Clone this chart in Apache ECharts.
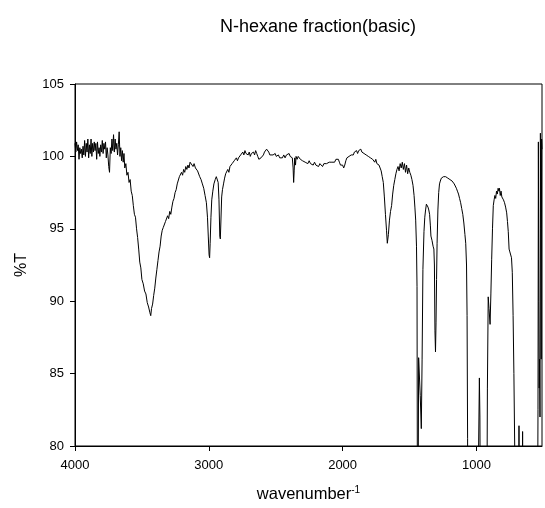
<!DOCTYPE html>
<html>
<head>
<meta charset="utf-8">
<script src="https://cdn.jsdelivr.net/npm/echarts@6/dist/echarts.min.js"></script>
<style>
html,body{margin:0;padding:0;background:#fff;}
#chart{width:545px;height:508px;}
</style>
</head>
<body>
<div id="chart"></div>
<script>
const titleText = 'N-hexane fraction(basic)';
const xTickValues = [4000, 3000, 2000, 1000];
const yTickValues = [80, 85, 90, 95, 100, 105];

// wavenumber (cm-1) and %T pairs
const wavenumber = [
4000,3994,3988,3982,3976,3970,3964,3958,3952,3946,3940,3934,3928,3922,3916,3910,3904,3898,3892,3886,
3880,3874,3868,3862,3856,3850,3844,3838,3832,3826,3820,3814,3808,3802,3796,3790,3784,3778,3772,3766,
3760,3754,3748,3742,3736,3730,3724,3718,3712,3706,3700,3694,3688,3682,3676,3670,3664,3658,3652,3646,
3640,3634,3628,3620,3612,3604,3596,3588,3580,3572,3564,3556,3548,3540,3532,3524,3516,3508,3500,3490,
3480,3470,3460,3450,3440,3434,3428,3420,3412,3404,3396,3388,3380,3372,3364,3356,3348,3340,3332,3324,
3316,3308,3300,3292,3284,3276,3268,3260,3252,3244,3236,3228,3220,3212,3204,3196,3188,3180,3172,3164,
3156,3148,3140,3132,3126,3118,3110,3100,3092,3084,3076,3068,3058,3048,3038,3028,3018,3010,3004,2998,
2994,2990,2984,2978,2970,2962,2952,2944,2936,2930,2924,2918,2914,2910,2904,2898,2890,2882,2874,2866,
2858,2850,2842,2834,2826,2818,2810,2802,2794,2786,2778,2770,2762,2754,2746,2738,2730,2722,2714,2706,
2698,2690,2682,2674,2666,2658,2650,2642,2634,2626,2618,2610,2600,2592,2584,2576,2568,2560,2552,2544,
2536,2520,2512,2504,2496,2488,2480,2470,2460,2450,2440,2430,2420,2410,2400,2392,2384,2376,2370,2366,
2362,2358,2352,2348,2340,2332,2324,2316,2308,2300,2290,2280,2270,2260,2250,2240,2230,2220,2210,2200,
2190,2180,2170,2160,2150,2140,2130,2120,2110,2100,2090,2080,2070,2060,2050,2040,2032,2024,2016,2008,
2000,1992,1984,1976,1968,1960,1952,1944,1936,1928,1920,1912,1904,1896,1888,1880,1872,1864,1856,1848,
1840,1832,1824,1816,1808,1800,1792,1784,1776,1768,1760,1752,1744,1736,1728,1720,1712,1704,1696,1688,
1680,1672,1666,1662,1658,1650,1642,1634,1626,1618,1610,1602,1594,1586,1578,1570,1562,1554,1546,1538,
1530,1522,1514,1506,1498,1490,1482,1474,1466,1460,1454,1448,1444,1440,1436,1432,1420,1412,1406,1400,
1392,1386,1380,1374,1368,1362,1356,1350,1344,1340,1332,1324,1318,1314,1310,1306,1302,1298,1294,1288,
1282,1276,1270,1262,1254,1246,1238,1230,1222,1214,1206,1198,1190,1182,1174,1166,1158,1150,1142,1134,
1126,1118,1110,1102,1094,1086,1080,1074,1070,1066,1062,1002,986,978,974,968,960,930,924,918,
912,906,898,892,886,880,874,868,862,856,850,844,838,832,828,822,816,810,804,798,
790,782,774,768,762,756,750,744,738,732,726,720,714,708,700,690,686,682,678,670,
660,655,650,646,560,545,540,537,534,531,528,525,522,519,516,513,510
];
const transmittance = [
100.9,100.3,101.0,100.4,100.8,99.8,100.6,100.2,100.5,99.9,100.7,100.1,101.1,100.0,100.9,100.3,101.2,99.9,100.8,100.2,
101.2,100.0,100.9,100.3,101.0,100.4,100.9,99.8,101.0,100.2,100.6,100.0,100.8,100.3,101.1,100.2,100.9,100.5,101.0,99.9,
100.6,100.1,99.3,98.9,100.6,100.2,101.2,100.4,101.5,100.3,101.2,100.5,100.9,100.1,100.8,101.7,100.0,100.6,99.7,100.4,
99.6,100.2,99.2,99.5,98.7,98.9,98.2,98.4,97.6,97.3,96.6,96.0,95.8,95.0,94.4,93.6,92.7,92.3,91.5,91.2,
90.7,90.5,89.9,89.6,89.2,89.0,89.5,89.8,90.4,90.9,91.6,92.2,92.8,93.4,93.8,94.5,94.9,95.1,95.0,95.5,
95.4,95.9,95.7,96.2,96.0,96.5,96.9,97.1,97.5,97.7,98.1,98.2,98.6,98.6,98.9,98.7,99.1,98.9,99.3,99.1,
99.4,99.2,99.6,99.5,99.7,99.3,99.5,99.2,99.3,99.0,98.9,98.6,98.4,98.1,97.8,97.3,96.8,95.8,94.5,93.2,
93.0,94.0,95.8,97.0,97.6,98.1,98.4,98.6,98.5,98.2,97.0,94.5,94.3,95.4,97.2,97.7,98.1,98.5,98.8,98.7,
99.1,98.9,99.3,99.2,99.5,99.4,99.7,99.6,99.9,99.7,99.9,99.8,100.1,100.0,100.3,100.1,100.4,100.2,100.3,100.1,
100.3,100.0,100.2,100.1,100.3,100.1,100.4,100.2,100.0,99.8,99.7,99.9,100.0,100.1,100.3,100.4,100.5,100.4,100.3,100.1,
100.2,100.1,100.0,100.2,100.0,99.9,100.1,99.9,100.0,99.9,100.1,99.9,100.1,100.0,100.2,100.0,100.1,99.9,99.2,98.2,
99.0,99.9,99.4,100.0,99.8,100.0,99.9,99.8,99.9,99.7,99.8,99.6,99.7,99.5,99.7,99.5,99.6,99.4,99.6,99.4,
99.5,99.3,99.5,99.4,99.3,99.5,99.4,99.5,99.4,99.6,99.5,99.6,99.7,99.6,99.8,99.9,99.8,99.6,99.4,99.3,
99.4,99.2,99.4,99.7,99.9,100.0,100.0,100.1,100.1,100.2,100.1,100.3,100.2,100.4,100.2,100.4,100.3,100.5,100.3,100.4,
100.2,100.3,100.1,100.2,100.0,100.1,99.9,100.0,99.8,99.9,99.6,99.8,99.5,99.6,99.4,99.3,99.0,98.6,98.2,97.2,
96.0,94.9,94.0,93.9,94.6,95.6,96.2,96.6,97.4,98.0,98.4,98.8,99.1,99.3,99.0,99.5,99.2,99.6,99.1,99.5,
98.9,99.4,98.8,99.2,98.9,98.7,98.4,98.0,97.3,96.5,95.6,93.8,91.0,70,75,86.1,83.5,81.2,86,92.2,
94.8,95.8,96.3,96.7,96.7,96.5,96.3,96.0,95.2,94.5,94.2,93.8,93.6,92.5,88.0,86.5,88.5,91.5,94.0,96.3,
97.5,98.1,98.3,98.5,98.4,98.6,98.5,98.6,98.5,98.5,98.4,98.4,98.3,98.3,98.2,98.1,98.0,97.8,97.6,97.4,
97.1,96.8,96.4,96.0,95.4,94.6,94.0,92.5,89.0,80.5,60,60,78,84.7,82,70,55,55,70,84,
90.3,89.5,88.4,90.5,92.9,95.0,96.6,97.0,97.3,97.1,97.6,97.4,97.8,97.6,97.8,97.3,97.6,97.2,97.3,97.0,
96.8,96.5,96.1,95.5,94.8,93.6,93.4,93.3,93.0,92.0,89.0,85,80,70,55,55,70,81.4,72,60,
72,81.0,72,60,55,70,82.5,101.0,90,84,86,82,101.6,95,86,101.2,100.5
];

const chart = echarts.init(document.getElementById('chart'), null, {renderer: 'canvas'});
const seriesData = wavenumber.map((w, i) => [w, transmittance[i]]);
const FONT = 'Liberation Sans, Arial, sans-serif';

chart.setOption({
  animation: false,
  backgroundColor: '#fff',
  title: {
    text: titleText,
    left: 215,
    top: 13,
    textStyle: {fontFamily: FONT, fontSize: 18, fontWeight: 'normal', color: '#000'}
  },
  grid: {
    left: 75, right: 3, top: 84, bottom: 61,
    show: true, borderColor: '#000', borderWidth: 1, backgroundColor: 'transparent',
    containLabel: false
  },
  xAxis: {
    type: 'value',
    inverse: true,
    min: 510,
    max: 4000,
    splitLine: {show: false},
    axisLine: {show: true, onZero: false, lineStyle: {color: '#000', width: 1}},
    axisTick: {show: true, inside: false, length: 5, lineStyle: {color: '#000'}, customValues: xTickValues},
    axisLabel: {show: true, margin: 13, color: '#000', fontFamily: FONT, fontSize: 13,
      customValues: xTickValues, formatter: v => String(v)},
    name: '{a|wavenumber}{b|-1}',
    nameLocation: 'middle',
    nameGap: 39,
    nameTextStyle: {
      rich: {
        a: {fontFamily: FONT, fontSize: 16.5, color: '#000', verticalAlign: 'bottom'},
        b: {fontFamily: FONT, fontSize: 10, color: '#000', verticalAlign: 'top', padding: [0,0,8,0]}
      }
    }
  },
  yAxis: {
    type: 'value',
    min: 80,
    max: 105,
    interval: 5,
    splitLine: {show: false},
    axisLine: {show: true, lineStyle: {color: '#000', width: 1}},
    axisTick: {show: true, inside: false, length: 5, lineStyle: {color: '#000'}},
    axisLabel: {margin: 11, color: '#000', fontFamily: FONT, fontSize: 13},
    name: '%T',
    nameLocation: 'middle',
    nameGap: 45,
    nameTextStyle: {fontFamily: FONT, fontSize: 16, color: '#000'}
  },
  series: [{
    type: 'line',
    data: seriesData,
    showSymbol: false,
    symbol: 'none',
    clip: true,
    lineStyle: {color: '#000', width: 1},
    emphasis: {disabled: true}
  }]
});
</script>
</body>
</html>
